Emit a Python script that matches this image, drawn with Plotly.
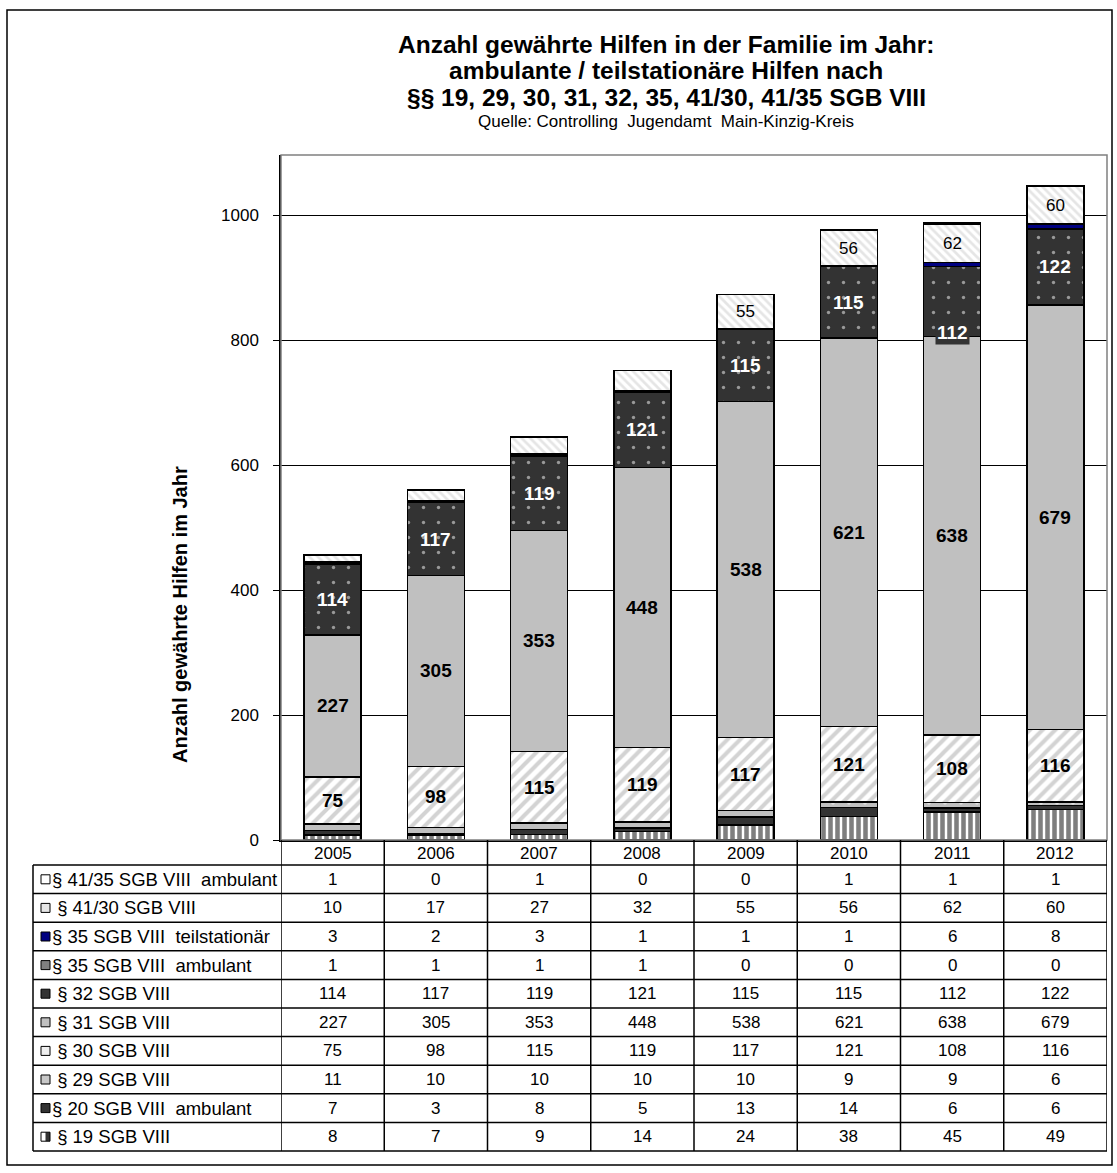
import numpy as np
import plotly.graph_objects as go

# ---- data -----------------------------------------------------------------
years = ["2005", "2006", "2007", "2008", "2009", "2010", "2011", "2012"]

p19 = [8, 7, 9, 14, 24, 38, 45, 49]
p20_amb = [7, 3, 8, 5, 13, 14, 6, 6]
p29 = [11, 10, 10, 10, 10, 9, 9, 6]
p30 = [75, 98, 115, 119, 117, 121, 108, 116]
p31 = [227, 305, 353, 448, 538, 621, 638, 679]
p32 = [114, 117, 119, 121, 115, 115, 112, 122]
p35_amb = [1, 1, 1, 1, 0, 0, 0, 0]
p35_teil = [3, 2, 3, 1, 1, 1, 6, 8]
p41_30 = [10, 17, 27, 32, 55, 56, 62, 60]
p41_35_amb = [1, 0, 1, 0, 0, 1, 1, 1]

series_names = [
    "§ 19 SGB VIII",
    "§ 20 SGB VIII  ambulant",
    "§ 29 SGB VIII",
    "§ 30 SGB VIII",
    "§ 31 SGB VIII",
    "§ 32 SGB VIII",
    "§ 35 SGB VIII  ambulant",
    "§ 35 SGB VIII  teilstationär",
    "§ 41/30 SGB VIII",
    "§ 41/35 SGB VIII  ambulant",
]
series_values = [p19, p20_amb, p29, p30, p31, p32, p35_amb, p35_teil, p41_30, p41_35_amb]

title_lines = [
    "Anzahl gewährte Hilfen in der Familie im Jahr:",
    "ambulante / teilstationäre Hilfen nach",
    "§§ 19, 29, 30, 31, 32, 35, 41/30, 41/35 SGB VIII",
]
subtitle = "Quelle: Controlling  Jugendamt  Main-Kinzig-Kreis"
y_title = "Anzahl gewährte Hilfen im Jahr"

# ---- styling per series (bottom to top) -----------------------------------
FONT = "Liberation Sans, Arial, sans-serif"
styles = [
    dict(color="#ffffff", pattern=dict(shape="|", fgcolor="#000000", bgcolor="#ffffff",
                                        fillmode="overlay", size=7, solidity=0.65)),
    dict(color="#333333"),
    dict(color="#c0c0c0", pattern=dict(shape=".", fgcolor="#ffffff", bgcolor="#c0c0c0",
                                        fillmode="overlay", size=16, solidity=0.04)),
    dict(color="#ffffff", pattern=dict(shape="/", fgcolor="#a8a8a8", bgcolor="#ffffff",
                                        fillmode="overlay", size=9, solidity=0.45)),
    dict(color="#c0c0c0"),
    dict(color="#333333", pattern=dict(shape=".", fgcolor="#ffffff", bgcolor="#333333",
                                        fillmode="overlay", size=15, solidity=0.04)),
    dict(color="#808080"),
    dict(color="#000080"),
    dict(color="#ffffff", pattern=dict(shape="\\", fgcolor="#cccccc", bgcolor="#ffffff",
                                        fillmode="overlay", size=6, solidity=0.45)),
    dict(color="#ffffff"),
]
# legend key fills used in the data table
key_fills = ["#ffffff|#333333", "#333333", "#c8c8c8", "#f0f0f0", "#c0c0c0",
             "#333333", "#808080", "#000080", "#e6e6e6", "#ffffff"]
# series whose names carry a leading space in the table
indented = [True, False, True, True, True, True, False, False, True, False]

# which segments get value labels, and how they are drawn
label_series = {
    3: dict(show=[True] * 8, size=19, bold=True, color="#000000"),
    4: dict(show=[True] * 8, size=19, bold=True, color="#000000"),
    5: dict(show=[True] * 8, size=19, bold=True, color="#ffffff"),
    8: dict(show=[False, False, False, False, True, True, True, True],
            size=17, bold=False, color="#000000"),
}

# ---- geometry (pixels) ----------------------------------------------------
W, H = 1117, 1173
L, R, T, B = 281, 1107, 155, 840
Y_MAX = 1096
ROW0, ROW_H = 865, 28.6
TABLE_LEFT = 33
TXT = 17
ROW_TXT = 18.5


def fx(x):
    return (x - L) / (R - L)


def fy(y):
    return (B - y) / (B - T)


fig = go.Figure()

for name, vals, st in zip(series_names, series_values, styles):
    marker = dict(color=st["color"], line=dict(color="#000000", width=1.5))
    if "pattern" in st:
        marker["pattern"] = st["pattern"]
    fig.add_trace(go.Bar(x=years, y=vals, name=name, marker=marker,
                         hoverinfo="x+y+name"))

# value labels centred in their segments
cum = np.vstack([np.zeros(len(years)), np.cumsum(np.array(series_values), axis=0)])
annotations = []
for si, cfg in label_series.items():
    for j, yr in enumerate(years):
        if not cfg["show"][j]:
            continue
        v = series_values[si][j]
        mid = cum[si][j] + v / 2
        txt = f"<b>{v}</b>" if cfg["bold"] else str(v)
        ann = dict(x=j, y=mid, xref="x", yref="y", text=txt, showarrow=False,
                   xanchor="center", yanchor="middle",
                   font=dict(family=FONT, size=cfg["size"], color=cfg["color"]))
        if si == 5 and yr == "2011":
            ann.update(yshift=-31, bgcolor="#333333", borderpad=1)
        annotations.append(ann)

# titles
for k, line in enumerate(title_lines):
    annotations.append(dict(x=fx(666), y=fy(44 + 27 * k), xref="paper", yref="paper",
                            text=f"<b>{line}</b>", showarrow=False,
                            xanchor="center", yanchor="middle",
                            font=dict(family=FONT, size=24.5, color="#000000")))
annotations.append(dict(x=fx(666), y=fy(121), xref="paper", yref="paper",
                        text=subtitle, showarrow=False, xanchor="center", yanchor="middle",
                        font=dict(family=FONT, size=17, color="#000000")))
annotations.append(dict(x=fx(180), y=fy(615), xref="paper", yref="paper",
                        text=f"<b>{y_title}</b>", showarrow=False, textangle=-90,
                        xanchor="center", yanchor="middle",
                        font=dict(family=FONT, size=20, color="#000000")))

shapes = []
# outer chart frame
shapes.append(dict(type="rect", xref="paper", yref="paper",
                   x0=fx(7), x1=fx(1112), y0=fy(10), y1=fy(1165),
                   line=dict(color="#000000", width=1.5), fillcolor="rgba(0,0,0,0)"))
# plot-area border (top / right)
shapes.append(dict(type="rect", xref="paper", yref="paper", x0=0, x1=1, y0=0, y1=1,
                   line=dict(color="#808080", width=1.5), fillcolor="rgba(0,0,0,0)"))

# data table: year header row + one row per series (top row = last series)
n_rows = len(series_names)
table_bottom = ROW0 + n_rows * ROW_H
for i in range(len(years) + 1):
    shapes.append(dict(type="line", xref="x", yref="paper", x0=i - 0.5, x1=i - 0.5,
                       y0=fy(B), y1=fy(table_bottom), line=dict(color="#000000", width=1.5)))
shapes.append(dict(type="line", xref="paper", yref="paper", x0=fx(TABLE_LEFT), x1=fx(TABLE_LEFT),
                   y0=fy(ROW0), y1=fy(table_bottom), line=dict(color="#000000", width=1.5)))
for r in range(n_rows + 1):
    yy = ROW0 + r * ROW_H
    shapes.append(dict(type="line", xref="paper", yref="paper", x0=fx(TABLE_LEFT), x1=1,
                       y0=fy(yy), y1=fy(yy), line=dict(color="#000000", width=1.5)))

for j, yr in enumerate(years):
    annotations.append(dict(x=j, y=fy(B + 13), xref="x", yref="paper", text=yr,
                            showarrow=False, xanchor="center", yanchor="middle",
                            font=dict(family=FONT, size=TXT, color="#000000")))

for r in range(n_rows):
    si = n_rows - 1 - r
    yc = ROW0 + r * ROW_H + ROW_H / 2
    # legend key
    fill = key_fills[si]
    k0, k1 = 41, 50
    if "|" in fill:
        left, right = fill.split("|")
        shapes.append(dict(type="rect", xref="paper", yref="paper", x0=fx(k0), x1=fx((k0 + k1) / 2),
                           y0=fy(yc - 4.5), y1=fy(yc + 4.5), line=dict(width=0), fillcolor=left))
        shapes.append(dict(type="rect", xref="paper", yref="paper", x0=fx((k0 + k1) / 2), x1=fx(k1),
                           y0=fy(yc - 4.5), y1=fy(yc + 4.5), line=dict(width=0), fillcolor=right))
        shapes.append(dict(type="rect", xref="paper", yref="paper", x0=fx(k0), x1=fx(k1),
                           y0=fy(yc - 4.5), y1=fy(yc + 4.5), line=dict(color="#000000", width=1),
                           fillcolor="rgba(0,0,0,0)"))
    else:
        shapes.append(dict(type="rect", xref="paper", yref="paper", x0=fx(k0), x1=fx(k1),
                           y0=fy(yc - 4.5), y1=fy(yc + 4.5), line=dict(color="#000000", width=1),
                           fillcolor=fill))
    label = series_names[si].replace("  ", "\u00a0\u00a0")
    if indented[si]:
        label = "\u00a0" + label
    annotations.append(dict(x=fx(50), y=fy(yc), xref="paper", yref="paper", text=label,
                            xanchor="left", yanchor="middle", showarrow=False,
                            font=dict(family=FONT, size=ROW_TXT, color="#000000")))
    for j, yr in enumerate(years):
        annotations.append(dict(x=j, y=fy(yc), xref="x", yref="paper",
                                text=str(series_values[si][j]), showarrow=False,
                                xanchor="center", yanchor="middle",
                                font=dict(family=FONT, size=TXT, color="#000000")))

fig.update_layout(
    width=W, height=H,
    margin=dict(l=L, r=W - R, t=T, b=H - B),
    paper_bgcolor="#ffffff", plot_bgcolor="#ffffff",
    barmode="stack", bargap=0.45,
    showlegend=False,
    font=dict(family=FONT, color="#000000"),
    annotations=annotations,
    shapes=shapes,
    xaxis=dict(type="category", range=[-0.5, len(years) - 0.5], showticklabels=False,
               ticks="", showgrid=False, showline=True, linecolor="#000000", linewidth=1.5,
               zeroline=False, fixedrange=True),
    yaxis=dict(range=[0, Y_MAX], tickvals=[0, 200, 400, 600, 800, 1000],
               showgrid=True, gridcolor="#000000", gridwidth=1, zeroline=False,
               showline=True, linecolor="#000000", linewidth=1.5,
               ticks="outside", ticklen=6, tickcolor="#000000", ticklabelstandoff=11,
               tickfont=dict(family=FONT, size=17, color="#000000"), fixedrange=True),
)

fig.write_html("out.html")
